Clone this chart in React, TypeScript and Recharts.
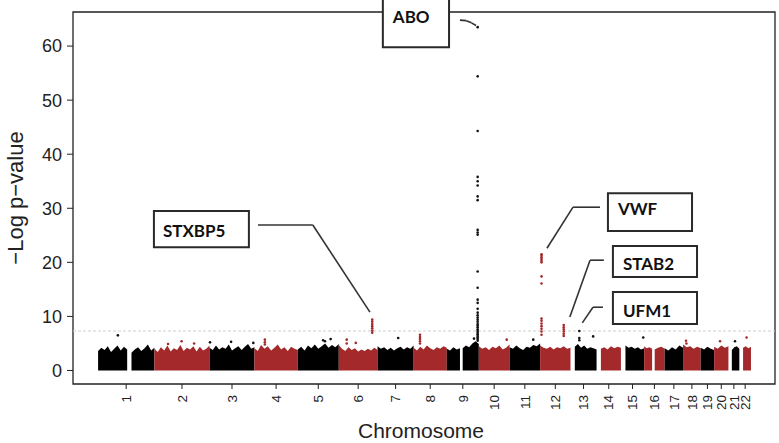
import React from 'react';
import {
  ComposedChart,
  XAxis,
  YAxis,
  Area,
  Scatter,
  ReferenceArea,
  ReferenceLine,
} from 'recharts';

// ---------------- DATA ----------------
const chromosomeNames = ['1','2','3','4','5','6','7','8','9','10','11','12','13','14','15','16','17','18','19','20','21','22'];
const chromosomeLengthsMb = [249.25, 243.2, 198.02, 191.15, 180.92, 171.12, 159.14, 146.36, 141.21, 135.53, 135.01, 133.85, 115.17, 107.35, 102.53, 90.35, 81.2, 78.08, 59.13, 63.03, 48.13, 51.3];

// covered (genotyped) ranges inside each chromosome, Mb
const coveredRangesMb: number[][][] = [
  [[0.7, 129], [148, 249.2]],
  [[0, 243.2]],
  [[0, 198]],
  [[0, 191.1]],
  [[0, 180.9]],
  [[0, 171.1]],
  [[0, 159.1]],
  [[0, 146.3]],
  [[0, 58], [70, 141.2]],
  [[0, 135.5]],
  [[0, 135]],
  [[0, 133.8]],
  [[19, 115.1]],
  [[19, 107.3]],
  [[20, 102.5]],
  [[0, 35], [46.5, 90.3]],
  [[0, 81.2]],
  [[0, 78]],
  [[0, 59.1]],
  [[0, 63]],
  [[15, 48.1]],
  [[16.5, 51.3]],
];

// upper envelope of the dense band of -log10 p values (per covered range)
const bandTops: number[][][] = [
  [[3.6, 4.2, 3.8, 4.5, 3.4, 4.0, 4.6, 3.7, 4.4, 3.9], [3.3, 3.9, 4.3, 3.6, 4.1, 4.8, 3.7, 4.2]],
  [[4.0, 3.4, 4.3, 3.7, 4.6, 3.5, 4.1, 3.8, 4.7, 3.6, 4.2, 3.9, 4.5, 3.5, 4.4, 3.7, 4.0, 4.6]],
  [[4.2, 3.8, 4.6, 3.9, 4.3, 4.0, 4.8, 3.7, 4.1, 4.5, 3.8, 4.4, 4.9, 4.0, 4.3]],
  [[4.1, 3.6, 4.7, 4.0, 4.5, 3.7, 4.2, 4.8, 3.9, 4.3, 3.6, 4.4, 4.0, 3.8]],
  [[3.9, 4.4, 3.7, 4.6, 4.1, 4.8, 4.0, 4.5, 5.0, 4.2, 4.7, 4.3, 4.9]],
  [[4.7, 4.0, 3.6, 4.3, 3.8, 4.1, 3.5, 3.9, 3.6, 4.0, 3.7, 4.2, 3.8]],
  [[4.5, 4.0, 4.3, 3.8, 4.2, 3.7, 4.1, 4.4, 3.9, 4.3, 4.0, 4.6]],
  [[4.2, 3.7, 4.4, 3.9, 4.6, 4.1, 3.8, 4.3, 4.0, 4.5, 4.2]],
  [[4.0, 3.7, 4.3, 3.9, 4.1], [4.1, 4.6, 4.3, 5.0, 5.4, 4.9]],
  [[4.5, 4.0, 4.3, 3.8, 4.4, 4.1, 4.6, 3.9, 4.2, 4.8]],
  [[4.3, 4.0, 4.6, 4.1, 3.8, 4.4, 4.2, 4.7, 4.5, 5.0]],
  [[4.6, 4.2, 4.0, 4.4, 3.9, 4.3, 4.1, 4.5, 4.0, 4.2]],
  [[4.4, 4.9, 4.2, 4.6, 4.0, 4.3, 4.1, 3.9]],
  [[4.0, 4.3, 3.9, 4.5, 4.1, 4.4, 4.2]],
  [[4.6, 4.2, 4.4, 4.0, 4.3, 3.9, 4.1]],
  [[4.5, 4.1, 4.3, 4.0], [3.9, 4.2, 4.4, 4.0]],
  [[4.1, 3.7, 4.3, 3.9, 4.6, 4.2]],
  [[4.8, 4.3, 4.5, 4.0, 4.4, 4.1]],
  [[4.2, 3.9, 4.4, 4.0, 3.8]],
  [[4.4, 4.0, 4.6, 4.2, 4.5]],
  [[3.8, 4.3, 4.5, 4.0]],
  [[4.2, 4.5, 4.1, 4.4]],
];

// significant loci: chromosome, position (Mb), -log10 p values of SNPs
const locusNames = ['ABO', 'VWF', 'STXBP5', 'STAB2', 'UFM1'];
const locusChrom = [9, 12, 6, 12, 13];
const locusPosMb = [136.1, 6.1, 147.6, 104.1, 38.9];
const locusValues = [
  [63.5, 54.4, 44.3, 35.8, 35.0, 34.2, 32.2, 31.5, 26.0, 25.5, 25.1, 18.3, 15.3, 13.1, 12.5, 11.4, 10.7, 10.2, 9.8, 9.4, 9.0, 8.6, 8.3, 8.0, 7.6, 7.3, 7.0, 6.7, 6.4, 6.1, 5.8, 5.5],
  [21.5, 21.2, 20.9, 20.6, 20.3, 20.0, 17.4, 16.1, 9.6, 9.2, 8.7, 8.2, 7.7, 7.2, 6.6],
  [9.4, 9.0, 8.6, 8.2, 7.8, 7.4, 7.0],
  [8.4, 8.0, 7.6, 7.2, 6.8, 6.4],
  [7.3, 6.0, 5.6],
];

// scattered SNPs above the dense band
const outlierChrom = [1, 2, 2, 2, 3, 3, 3, 4, 4, 4, 5, 5, 5, 6, 6, 6, 7, 8, 8, 8, 8, 8, 9, 10, 11, 13, 15, 18, 18, 20, 21, 22];
const outlierPosMb = [88, 60, 120, 175, 2, 95, 193, 46, 46, 46, 112, 120, 145, 35, 35, 75, 91, 28, 28, 28, 28, 28, 120, 123, 104.6, 100, 98.5, 13, 15, 26, 29, 32];
const outlierValues = [6.5, 4.9, 5.4, 5.0, 5.2, 5.3, 5.1, 5.7, 5.2, 4.8, 5.6, 5.4, 5.8, 5.7, 5.0, 5.1, 6.0, 6.6, 6.2, 5.8, 5.4, 5.0, 5.9, 5.7, 5.7, 6.3, 6.1, 5.5, 5.0, 5.4, 5.4, 6.1];

const genomeWideThreshold = 7.3;
const yTicks = [0, 10, 20, 30, 40, 50, 60];

// ---------------- DERIVED ----------------
const chromOffsets: number[] = [];
chromosomeLengthsMb.reduce((acc, len, i) => {
  chromOffsets[i] = acc;
  return acc + len;
}, 0);
const chromMids = chromosomeLengthsMb.map((len, i) => chromOffsets[i] + len / 2);
const totalLen = chromosomeLengthsMb.reduce((a, b) => a + b, 0);

const BLACK = '#000000';
const RED = '#a3292b';
const colorOf = (chromIdx: number) => (chromIdx % 2 === 0 ? BLACK : RED);

type Seg = { key: string; color: string; data: { x: number; y: number }[] };
const bandSegments: Seg[] = [];
coveredRangesMb.forEach((ranges, ci) => {
  ranges.forEach(([s, e], si) => {
    const tops = bandTops[ci][si];
    const n = tops.length;
    bandSegments.push({
      key: `c${ci}s${si}`,
      color: colorOf(ci),
      data: tops.map((t, i) => ({ x: chromOffsets[ci] + s + ((e - s) * i) / (n - 1), y: t })),
    });
  });
});

const blackPoints: { x: number; y: number }[] = [];
const redPoints: { x: number; y: number }[] = [];
const pushPoint = (chrom: number, pos: number, v: number) => {
  const ci = chrom - 1;
  const p = { x: chromOffsets[ci] + pos, y: v };
  if (ci % 2 === 0) blackPoints.push(p);
  else redPoints.push(p);
};
locusChrom.forEach((c, i) => locusValues[i].forEach((v) => pushPoint(c, locusPosMb[i], v)));
outlierChrom.forEach((c, i) => pushPoint(c, outlierPosMb[i], outlierValues[i]));

// ---------------- LAYOUT ----------------
const X_DOMAIN: [number, number] = [-110, totalLen + 106];
const Y_DOMAIN: [number, number] = [-2.5, 66.3];
const FONT = '"Liberation Sans", Arial, Helvetica, sans-serif';
const LABEL_FONT = 'Lato, "Open Sans", sans-serif';

// annotation boxes (data coordinates) and leader polylines
const annotations = [
  { text: locusNames[0], box: [1257, 1549, 59.8, 68.8], dx: 10, dy: 25,
    leader: [[1597, 64.8], [1625, 64.7], [1648, 64.3], [1668, 63.8]] },
  { text: locusNames[2], box: [247, 666, 22.8, 29.5], dx: 9, dy: 26,
    leader: [[706, 26.9], [948, 26.9], [1200, 10.8]] },
  { text: locusNames[1], box: [2250, 2621, 25.8, 32.8], dx: 10, dy: 22,
    leader: [[2215, 30.2], [2096, 30.2], [1981, 22.6]] },
  { text: locusNames[3], box: [2272, 2643, 17.3, 23.0], dx: 10, dy: 24,
    leader: [[2232, 20.4], [2171, 20.4], [2082, 9.9]] },
  { text: locusNames[4], box: [2272, 2643, 8.6, 14.5], dx: 10, dy: 25,
    leader: [[2228, 11.7], [2184, 11.7], [2137, 8.8]] },
];

const dotShape = (color: string) => (props: any) => (
  <circle cx={props.cx} cy={props.cy} r={1.3} fill={color} />
);

const XTick = (props: any) => {
  const { x, y, payload } = props;
  const idx = chromMids.findIndex((m) => Math.abs(m - payload.value) < 1e-6);
  return (
    <text
      x={x}
      y={y}
      dy="0.35em"
      textAnchor="end"
      transform={`rotate(-90, ${x}, ${y})`}
      fontSize={13.5}
      fontFamily={FONT}
      fill="#222"
    >
      {chromosomeNames[idx]}
    </text>
  );
};

const boxLabel = (text: string, dx: number, dy: number) => (props: any) => {
  const vb = props.viewBox || {};
  return (
    <text
      x={vb.x + dx}
      y={vb.y + dy}
      fontFamily={LABEL_FONT}
      fontWeight={700}
      fontSize={17}
      fill="#111"
    >
      {text}
    </text>
  );
};

export default function App() {
  return (
    <div style={{ position: 'absolute', left: 0, top: 0, background: '#fff' }}>
      <ComposedChart
        width={779}
        height={443}
        margin={{ top: 12, right: 4, bottom: 0, left: 0 }}
      >
        <XAxis
          type="number"
          dataKey="x"
          domain={X_DOMAIN}
          allowDataOverflow
          ticks={chromMids}
          interval={0}
          tick={<XTick />}
          tickSize={5}
          tickMargin={6}
          tickLine={{ stroke: '#222' }}
          axisLine={false}
          height={59}
          label={(props: any) => {
            const vb = props.viewBox || {};
            return (
              <text
                x={vb.x + vb.width / 2 - 3}
                y={vb.y + 54}
                textAnchor="middle"
                fontSize={21}
                fontFamily={FONT}
                fill="#222"
              >
                Chromosome
              </text>
            );
          }}
        />
        <YAxis
          type="number"
          dataKey="y"
          domain={Y_DOMAIN}
          allowDataOverflow
          ticks={yTicks}
          interval={0}
          tickSize={6}
          tickMargin={5}
          tickLine={{ stroke: '#222' }}
          axisLine={false}
          width={73}
          tick={{ fontSize: 18, fontFamily: FONT, fill: '#222' }}
          label={(props: any) => {
            const vb = props.viewBox || {};
            const cx = 15;
            const cy = vb.y + vb.height / 2;
            return (
              <text
                x={cx}
                y={cy}
                textAnchor="middle"
                dominantBaseline="central"
                transform={`rotate(-90, ${cx}, ${cy})`}
                fontSize={22}
                fontFamily={FONT}
                fill="#222"
              >
                −Log p−value
              </text>
            );
          }}
        />

        <ReferenceArea
          x1={X_DOMAIN[0]}
          x2={X_DOMAIN[1]}
          y1={Y_DOMAIN[0]}
          y2={Y_DOMAIN[1]}
          fill="none"
          fillOpacity={0}
          stroke="#222"
          strokeWidth={1.3}
          ifOverflow="visible"
        />
        <ReferenceLine
          y={genomeWideThreshold}
          stroke="#cfcfcf"
          strokeWidth={1}
          strokeDasharray="3 2"
        />

        {bandSegments.map((seg) => (
          <Area
            key={seg.key}
            data={seg.data}
            dataKey="y"
            type="linear"
            stroke="none"
            fill={seg.color}
            fillOpacity={1}
            baseValue={0}
            dot={false}
            activeDot={false}
            isAnimationActive={false}
          />
        ))}

        <Scatter data={blackPoints} shape={dotShape('#111')} isAnimationActive={false} />
        <Scatter data={redPoints} shape={dotShape(RED)} isAnimationActive={false} />

        {annotations.map((a) =>
          a.leader.slice(1).map((p, i) => (
            <ReferenceLine
              key={`${a.text}-l${i}`}
              segment={[
                { x: a.leader[i][0], y: a.leader[i][1] },
                { x: p[0], y: p[1] },
              ]}
              stroke="#333"
              strokeWidth={1.6}
              ifOverflow="visible"
            />
          ))
        )}
        {annotations.map((a) => (
          <ReferenceArea
            key={`${a.text}-box`}
            x1={a.box[0]}
            x2={a.box[1]}
            y1={a.box[2]}
            y2={a.box[3]}
            fill="#ffffff"
            fillOpacity={1}
            stroke="#2a2a2a"
            strokeWidth={2}
            ifOverflow="visible"
            label={boxLabel(a.text, a.dx, a.dy)}
          />
        ))}
      </ComposedChart>
    </div>
  );
}
